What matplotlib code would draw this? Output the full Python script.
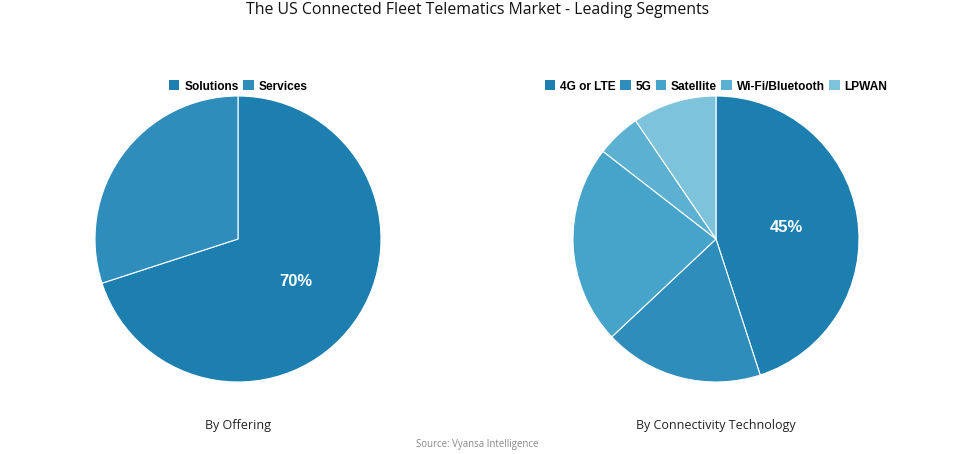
import matplotlib
matplotlib.use("Agg")
import matplotlib.pyplot as plt
from matplotlib.patches import Patch

title = "The US Connected Fleet Telematics Market - Leading Segments"
source = "Source: Vyansa Intelligence"

offering_labels = ["Solutions", "Services"]
offering_values = [70, 30]
offering_colors = ["#1d7fb0", "#2e8dbb"]

conn_labels = ["4G or LTE", "5G", "Satellite", "Wi-Fi/Bluetooth", "LPWAN"]
conn_values = [45, 18, 22.5, 5, 9.5]
conn_colors = ["#1d7fb0", "#2e8dbb", "#46a3c9", "#5cb1d2", "#7cc3db"]

W, H = 955, 454
fig = plt.figure(figsize=(W / 100, H / 100), dpi=100)
fig.patch.set_facecolor("white")

R = 143
def axes_for(cx, cy):
    return fig.add_axes([(cx - R) / W, (H - cy - R) / H, 2 * R / W, 2 * R / H])

panels = [
    (238, 239, offering_labels, offering_values, offering_colors, "By Offering"),
    (716, 239, conn_labels, conn_values, conn_colors, "By Connectivity Technology"),
]

for cx, cy, labels, values, colors, sub in panels:
    ax = axes_for(cx, cy)
    wedges, texts, autotexts = ax.pie(
        values, colors=colors, startangle=90, counterclock=False,
        wedgeprops=dict(edgecolor="white", linewidth=0.8),
        autopct=lambda p: f"{p:.0f}%" if p >= 40 else "",
        pctdistance=0.5, radius=1.0,
        textprops=dict(color="white", fontsize=12, fontweight="bold",
                       family=["Liberation Sans", "DejaVu Sans"]),
    )
    ax.set_xlim(-1, 1)
    ax.set_ylim(-1, 1)
    ax.set_aspect("equal")
    handles = [Patch(facecolor=c, edgecolor="none") for c in colors]
    fig.legend(handles, labels, loc="center", bbox_to_anchor=(cx / W, 1 - 86.5 / H),
               ncol=len(labels), frameon=False, handlelength=0.9, handleheight=0.9,
               handletextpad=0.4, columnspacing=0.35,
               prop=dict(family=["Liberation Sans", "DejaVu Sans"], weight="bold", size=8.6))
    fig.text(cx / W, 1 - 425 / H, sub, ha="center", va="center", fontsize=9,
             color="#222222", family=["Open Sans", "DejaVu Sans"])

fig.text(0.5, 1 - 10 / H, title, ha="center", va="center", fontsize=11.4,
         color="#111111", family=["Open Sans", "DejaVu Sans"])
fig.text(0.5, 1 - 444.5 / H, source, ha="center", va="center", fontsize=6.9,
         color="#888888", family=["Open Sans", "DejaVu Sans"])

fig.savefig("out.png", dpi=100, facecolor="white")
